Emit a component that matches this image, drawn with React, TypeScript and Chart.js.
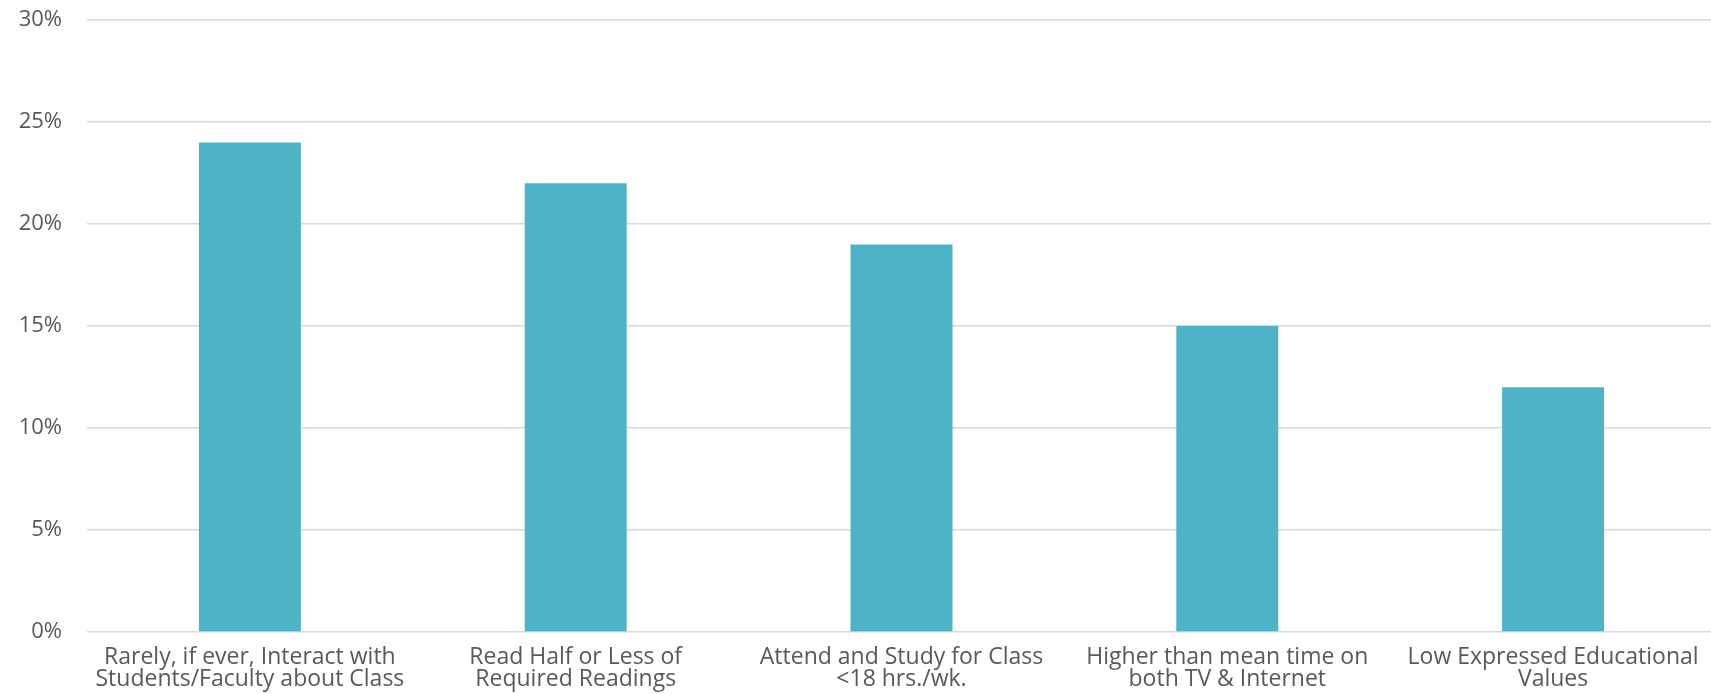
import React, { useEffect, useRef } from "react";
import { Chart, registerables } from "chart.js";

Chart.register(...registerables);

const categories: string[][] = [
  ["Rarely, if ever, Interact with", "Students/Faculty about Class"],
  ["Read Half or Less of", "Required Readings"],
  ["Attend and Study for Class", "<18 hrs./wk."],
  ["Higher than mean time on", "both TV & Internet"],
  ["Low Expressed Educational", "Values"],
];

const shares: number[] = [24, 22, 19, 15, 12];

const yMin = 0;
const yMax = 30;
const yStep = 5;

export default function App() {
  const canvasRef = useRef<HTMLCanvasElement | null>(null);

  useEffect(() => {
    document.body.style.margin = "0";
    const canvas = canvasRef.current;
    if (!canvas) return;
    const chart = new Chart(canvas, {
      type: "bar",
      data: {
        labels: categories,
        datasets: [
          {
            data: shares,
            backgroundColor: "#4FB3C8",
            borderWidth: 0,
            categoryPercentage: 1,
            barPercentage: 0.313,
          },
        ],
      },
      options: {
        responsive: false,
        animation: false,
        layout: { padding: { top: 20, right: 0, left: 0, bottom: 0 } },
        plugins: {
          legend: { display: false },
          tooltip: { enabled: false },
        },
        scales: {
          x: {
            grid: { display: false, drawTicks: false },
            border: { display: false },
            ticks: {
              color: "#595959",
              font: { family: "Open Sans", size: 23, lineHeight: 0.95 },
              padding: 15,
              maxRotation: 0,
              autoSkip: false,
            },
            afterFit: (scale: any) => {
              scale.height = 62;
              scale.paddingLeft = 0;
              scale.paddingRight = 0;
            },
          },
          y: {
            min: yMin,
            max: yMax,
            grid: { color: "#D9D9D9", lineWidth: 1.5, drawTicks: false },
            border: { display: false },
            ticks: {
              stepSize: yStep,
              color: "#595959",
              font: { family: "Open Sans", size: 22 },
              padding: 25,
              callback: (v: any) => `${v}%`,
            },
            afterFit: (scale: any) => {
              scale.width = 87;
              scale.paddingTop = 0;
              scale.paddingBottom = 0;
            },
          },
        },
      },
    });
    return () => chart.destroy();
  }, []);

  return (
    <div style={{ width: 1711, height: 694, overflow: "hidden", position: "relative" }}>
      <canvas ref={canvasRef} width={1716} height={694} style={{ display: "block" }} />
    </div>
  );
}
